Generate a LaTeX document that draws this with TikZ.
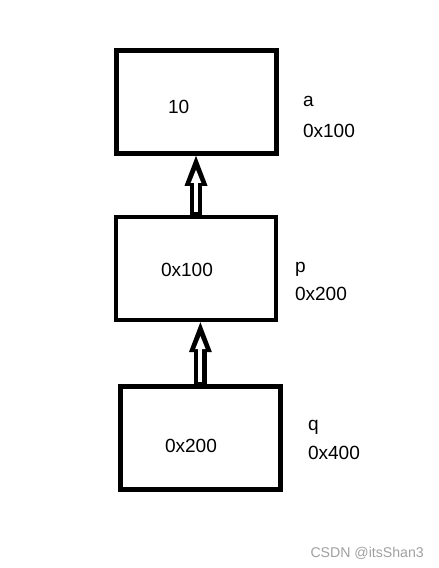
\documentclass[tikz,border=0pt]{standalone}
\usepackage{fontspec}
\setmainfont{Liberation Sans}
\usetikzlibrary{arrows.meta}

\tikzset{every picture/.style={line width=0.75pt}}
\tikzset{
  membox/.style={draw, line width=3.4pt, minimum width=120pt, minimum height=77.25pt, inner sep=0pt},
  memtxt/.style={anchor=base west, inner sep=0pt, font=\fontsize{14.3}{17}\selectfont},
  ptrout/.style={line width=9.4pt, -{Triangle[length=22.5pt,width=17.25pt,line width=0pt]}},
  ptrin/.style={white, line width=3pt, shorten <=1.9pt, shorten >=10.5pt, -{Triangle[length=9.75pt,width=7.9pt,line width=0pt]}}
}

\begin{document}
\begin{tikzpicture}[x=0.75pt,y=0.75pt,yscale=-1,xscale=1]
\useasboundingbox (0,0) rectangle (439,568);

%Shape: Rectangle [id:boxa]
\node (boxa) [membox] at (196.3,102) {};
%Shape: Rectangle [id:boxp]
\node (boxp) [membox] at (196,268.4) {};
%Shape: Rectangle [id:boxq]
\node (boxq) [membox] at (200.4,438.1) {};

%Hollow Arrow [id:ptrpa]
\draw [ptrout] (boxp.north) -- (boxp.north |- boxa.south);
\draw [ptrin] (boxp.north) -- (boxp.north |- boxa.south);
%Hollow Arrow [id:ptrqp]
\draw [ptrout] (boxq.north) -- (boxq.north |- boxp.south);
\draw [ptrin] (boxq.north) -- (boxq.north |- boxp.south);

% Text Node
\draw (167.5,113) node (vala) [memtxt] {10};
% Text Node
\draw (160.5,276) node (valp) [memtxt] {0x100};
% Text Node
\draw (164.5,452) node (valq) [memtxt] {0x200};

% Text Node
\draw (302.5,106) node (namea) [memtxt] {a};
% Text Node
\draw (302.5,137) node (addra) [memtxt] {0x100};
% Text Node
\draw (294.5,272) node (namep) [memtxt] {p};
% Text Node
\draw (294.5,300) node (addrp) [memtxt] {0x200};
% Text Node
\draw (307.5,430) node (nameq) [memtxt] {q};
% Text Node
\draw (307.5,459) node (addrq) [memtxt] {0x400};

% Text Node
\draw (310,557) node (mark) [anchor=base west, inner sep=0pt, text={rgb,255:red,160;green,160;blue,160}, font=\fontsize{10.6}{12}\selectfont] {CSDN @itsShan3};

\end{tikzpicture}
\end{document}
